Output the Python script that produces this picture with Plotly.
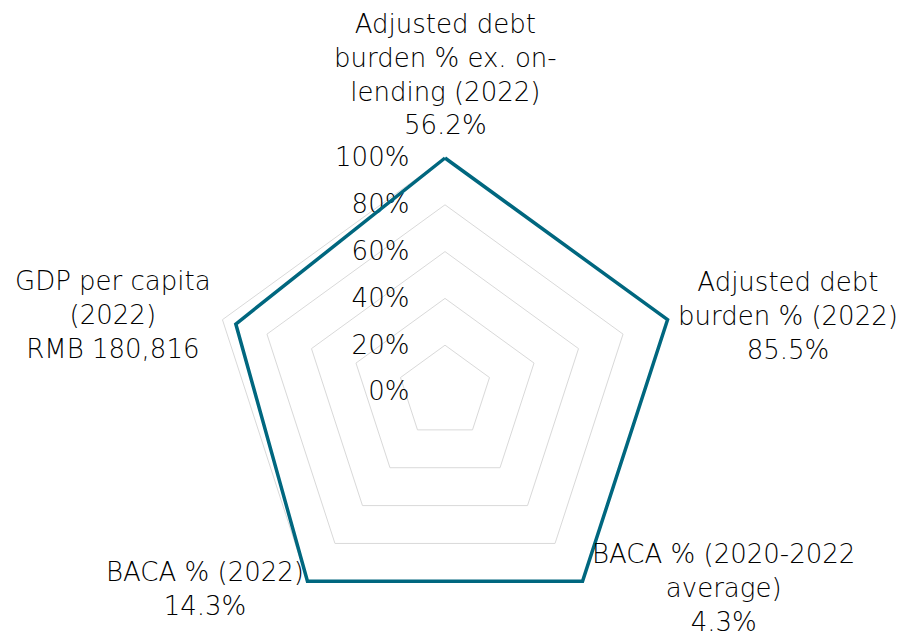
import plotly.graph_objects as go

# Axis categories, the value shown under each one, and the plotted score (% of max)
categories = [
    "Adjusted debt burden % ex. on-lending (2022)",
    "Adjusted debt burden % (2022)",
    "BACA % (2020-2022 average)",
    "BACA % (2022)",
    "GDP per capita (2022)",
]
label_lines = [
    ["Adjusted debt", "burden % ex. on-", "lending (2022)"],
    ["Adjusted debt", "burden % (2022)"],
    ["BACA % (2020-2022", "average)"],
    ["BACA % (2022)"],
    ["GDP per capita", "(2022)"],
]
shown_values = ["56.2%", "85.5%", "4.3%", "14.3%", "RMB 180,816"]
scores = [100, 100, 100, 100, 94]
radial_ticks = [0, 20, 40, 60, 80, 100]

W, H = 899, 639
CX, CY, R100 = 445, 392, 234  # polar centre and radius of the 100% ring, in pixels
R_MAX = 102                    # small headroom so the outer line is not clipped
R = R100 * R_MAX / 100

FONT = "DejaVu Sans"
FONT_SIZE = 26
FONT_WEIGHT = 200
TEXT_COLOR = "#000000"
LINE_COLOR = "#00677f"
GRID_COLOR = "#d9d9d9"

theta = categories + [categories[0]]
r = scores + [scores[0]]

fig = go.Figure()
fig.add_trace(
    go.Scatterpolar(
        r=r,
        theta=theta,
        mode="lines",
        line=dict(color=LINE_COLOR, width=3.5),
        hoverinfo="skip",
        showlegend=False,
    )
)

# label block centres (pixels) for each category
label_pos = [(445, 74), (788, 316), (723, 588), (205, 589), (113, 315)]
annotations = []
for lines, val, (px, py) in zip(label_lines, shown_values, label_pos):
    annotations.append(
        dict(
            text="<br>".join(lines + [val]),
            x=px / W,
            y=1 - py / H,
            xref="paper",
            yref="paper",
            xanchor="center",
            yanchor="middle",
            align="center",
            showarrow=False,
            font=dict(family=FONT, size=FONT_SIZE, color=TEXT_COLOR, weight=FONT_WEIGHT),
        )
    )

fig.update_layout(
    width=W,
    height=H,
    margin=dict(l=0, r=0, t=0, b=0),
    paper_bgcolor="white",
    plot_bgcolor="white",
    showlegend=False,
    annotations=annotations,
    polar=dict(
        domain=dict(x=[(CX - R) / W, (CX + R) / W], y=[1 - (CY + R) / H, 1 - (CY - R) / H]),
        bgcolor="white",
        gridshape="linear",
        angularaxis=dict(
            direction="clockwise",
            rotation=90,
            showgrid=False,
            showticklabels=False,
            ticks="",
            showline=False,
            layer="below traces",
        ),
        radialaxis=dict(
            range=[0, R_MAX],
            tickvals=radial_ticks,
            ticktext=[f"{v}%" for v in radial_ticks],
            angle=90,
            tickangle=90,
            side="counterclockwise",
            showline=False,
            showgrid=True,
            gridcolor=GRID_COLOR,
            gridwidth=1,
            ticks="outside",
            ticklen=26,
            tickcolor="rgba(0,0,0,0)",
            layer="below traces",
            tickfont=dict(family=FONT, size=FONT_SIZE, color=TEXT_COLOR, weight=FONT_WEIGHT),
        ),
    ),
)

fig.write_html("out.html")
